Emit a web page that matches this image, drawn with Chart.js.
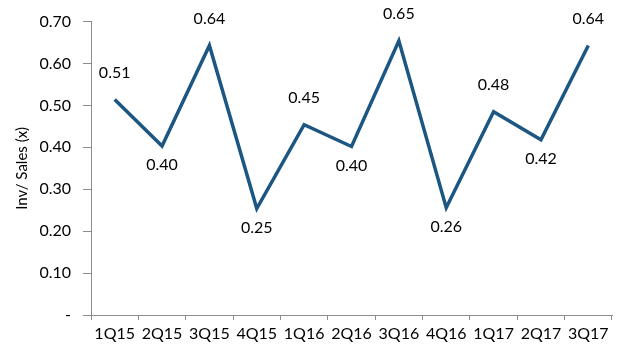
<!DOCTYPE html>
<html>
<head>
<meta charset="utf-8">
<script src="https://cdn.jsdelivr.net/npm/chart.js@4/dist/chart.umd.min.js"></script>
<style>
  html, body { margin: 0; padding: 0; background: #fff; }
  #wrap { width: 619px; height: 349px; }
</style>
</head>
<body>
<div id="wrap"><canvas id="chart" width="619" height="349"></canvas></div>
<script>
// quarters on the x axis
const quarters = ['1Q15', '2Q15', '3Q15', '4Q15', '1Q16', '2Q16', '3Q16', '4Q16', '1Q17', '2Q17', '3Q17'];
// inventory / sales ratio
const invSales = [0.514, 0.403, 0.643, 0.254, 0.454, 0.402, 0.654, 0.256, 0.485, 0.418, 0.643];
// where each value label sits: 1 = above the point, -1 = below
const labelSide = [1, -1, 1, -1, 1, -1, 1, -1, 1, -1, 1];

const axisGrey = '#8c8c8c';
const lineBlue = '#1c5682';
const textFont = 'Lato, "Open Sans", sans-serif';

// draws the value labels next to each point
const valueLabels = {
    id: 'valueLabels',
    afterDatasetsDraw(chart) {
        const ctx = chart.ctx;
        const meta = chart.getDatasetMeta(0);
        ctx.save();
        ctx.font = '16px ' + textFont;
        ctx.fillStyle = '#000';
        ctx.textAlign = 'center';
        ctx.textBaseline = 'middle';
        meta.data.forEach((pt, i) => {
            const dy = labelSide[i] > 0 ? -27 : 19;
            ctx.fillText(invSales[i].toFixed(2), pt.x, pt.y + dy);
        });
        ctx.restore();
    }
};

new Chart(document.getElementById('chart'), {
    type: 'line',
    data: {
        labels: quarters,
        datasets: [{
            data: invSales,
            borderColor: lineBlue,
            borderWidth: 3.5,
            pointRadius: 0,
            tension: 0,
            fill: false
        }]
    },
    options: {
        responsive: false,
        animation: false,
        layout: { padding: { top: 10, right: 7, left: 0, bottom: 0 } },
        plugins: {
            legend: { display: false },
            tooltip: { enabled: false }
        },
        scales: {
            x: {
                offset: true,
                grid: {
                    offset: true,
                    drawOnChartArea: false,
                    color: axisGrey,
                    tickLength: 5
                },
                border: { color: axisGrey, width: 1 },
                ticks: {
                    color: '#000',
                    font: { family: textFont, size: 16 },
                    padding: 4,
                    maxRotation: 0,
                    autoSkip: false
                },
                afterFit(scale) { scale.height = 34; }
            },
            y: {
                min: 0,
                max: 0.7,
                grid: {
                    drawOnChartArea: false,
                    color: axisGrey,
                    tickLength: 8
                },
                border: { color: axisGrey, width: 1 },
                ticks: {
                    stepSize: 0.1,
                    color: '#000',
                    font: { family: textFont, size: 16 },
                    padding: 12,
                    callback: v => v === 0 ? '-' : v.toFixed(2)
                },
                title: {
                    display: true,
                    text: 'Inv/ Sales (x)',
                    color: '#000',
                    font: { family: textFont, size: 15 },
                    padding: { top: 13, bottom: 0 }
                },
                afterFit(scale) { scale.width = 91; }
            }
        }
    },
    plugins: [valueLabels]
});
</script>
</body>
</html>
